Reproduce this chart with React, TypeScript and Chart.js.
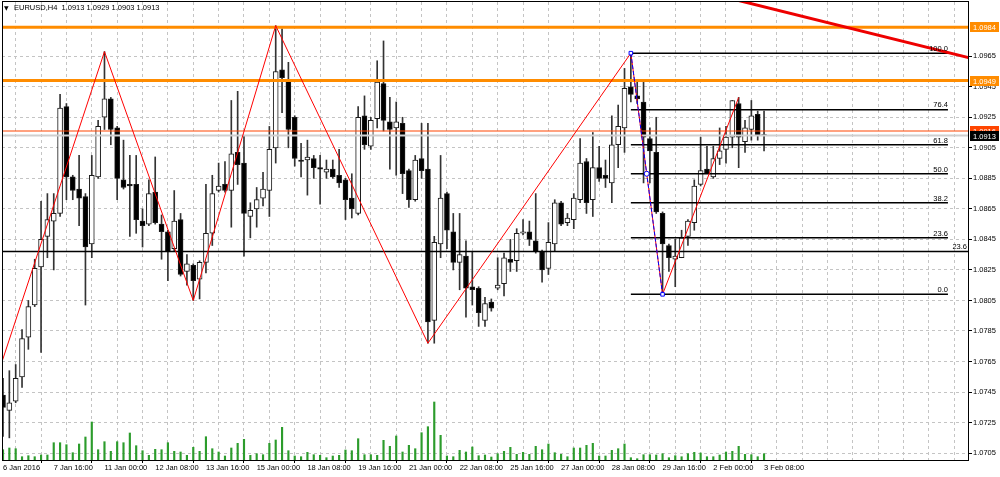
import React, { useEffect, useRef } from 'react';
import { Chart, registerables } from 'chart.js';

Chart.register(...registerables);

// ---- data (H4 bars, index 0 = 6 Jan 2016 08:00) ----
const opens = [
  1.0743, 1.0733, 1.0739, 1.0755, 1.0781, 1.0802, 1.0827, 1.0847, 1.0857, 1.0862,
  1.0932, 1.0886, 1.0878, 1.0873, 1.0842, 1.0886, 1.0925, 1.0937, 1.0918, 1.0884,
  1.0881, 1.0881, 1.0857, 1.0855, 1.0876, 1.0855, 1.0850, 1.0839, 1.0858, 1.0824,
  1.0828, 1.0819, 1.0830, 1.0849, 1.0877, 1.0881, 1.0877, 1.0902, 1.0895, 1.0860,
  1.0865, 1.0872, 1.0877, 1.0905, 1.0956, 1.0949, 1.0925, 1.0897, 1.0897, 1.0898,
  1.0892, 1.0889, 1.0891, 1.0887, 1.0884, 1.0872, 1.0862, 1.0926, 1.0906, 1.0924,
  1.0947, 1.0922, 1.0918, 1.0921, 1.0890, 1.0871, 1.0898, 1.0891, 1.0792, 1.0842,
  1.0875, 1.0850, 1.0830, 1.0834, 1.0814, 1.0813, 1.0792, 1.0804, 1.0813, 1.0816,
  1.0832, 1.0831, 1.0849, 1.0850, 1.0844, 1.0837, 1.0826, 1.0842, 1.0869, 1.0856,
  1.0858, 1.0871, 1.0896, 1.0871, 1.0892, 1.0887, 1.0882, 1.0907, 1.0918, 1.0945,
  1.0939, 1.0935, 1.0911, 1.0902, 1.0862, 1.0841, 1.0832, 1.0833, 1.0847, 1.0856,
  1.0881, 1.0891, 1.0886, 1.0898, 1.0904, 1.0912, 1.0934, 1.0909, 1.0917, 1.0927,
  1.0913,
];
const highs = [
  1.0754, 1.0759, 1.0763, 1.0786, 1.0805, 1.0832, 1.0870, 1.0875, 1.0875, 1.0940,
  1.0934, 1.0887, 1.0900, 1.0875, 1.0900, 1.0923, 1.0968, 1.0938, 1.0919, 1.0910,
  1.0900, 1.0900, 1.0865, 1.0884, 1.0899, 1.0861, 1.0851, 1.0877, 1.0862, 1.0835,
  1.0829, 1.0831, 1.0881, 1.0887, 1.0895, 1.0896, 1.0936, 1.0942, 1.0913, 1.0869,
  1.0879, 1.0889, 1.0919, 1.0985, 1.0983, 1.0961, 1.0926, 1.0908, 1.0910, 1.0900,
  1.0900, 1.0897, 1.0897, 1.0904, 1.0885, 1.0888, 1.0932, 1.0939, 1.0925, 1.0962,
  1.0975, 1.0938, 1.0935, 1.0925, 1.0891, 1.0900, 1.0921, 1.0921, 1.0847, 1.0900,
  1.0876, 1.0862, 1.0862, 1.0844, 1.0837, 1.0814, 1.0807, 1.0806, 1.0833, 1.0836,
  1.0845, 1.0852, 1.0858, 1.0857, 1.0875, 1.0838, 1.0856, 1.0871, 1.0870, 1.0862,
  1.0875, 1.0911, 1.0898, 1.0915, 1.0906, 1.0897, 1.0926, 1.0933, 1.0957, 1.0967,
  1.0948, 1.0948, 1.0918, 1.0925, 1.0863, 1.0842, 1.0845, 1.0851, 1.0858, 1.0884,
  1.0912, 1.0906, 1.0906, 1.0918, 1.0919, 1.0936, 1.0938, 1.0923, 1.0936, 1.0929,
  1.0929,
];
const lows = [
  1.0716, 1.0715, 1.0738, 1.0748, 1.0773, 1.0801, 1.0771, 1.0833, 1.0825, 1.0860,
  1.0871, 1.0871, 1.0854, 1.0802, 1.0833, 1.0885, 1.0917, 1.0907, 1.0871, 1.0878,
  1.0847, 1.0849, 1.0840, 1.0854, 1.0855, 1.0832, 1.0818, 1.0837, 1.0821, 1.0815,
  1.0805, 1.0806, 1.0823, 1.0841, 1.0876, 1.0876, 1.0853, 1.0881, 1.0834, 1.0846,
  1.0853, 1.0867, 1.0860, 1.0895, 1.0928, 1.0905, 1.0893, 1.0886, 1.0874, 1.0885,
  1.0868, 1.0885, 1.0885, 1.0879, 1.0858, 1.0859, 1.0861, 1.0904, 1.0904, 1.0918,
  1.0916, 1.0891, 1.0887, 1.0875, 1.0866, 1.0870, 1.0885, 1.0777, 1.0777, 1.0833,
  1.0839, 1.0825, 1.0812, 1.0794, 1.0802, 1.0788, 1.0788, 1.0798, 1.0812, 1.0808,
  1.0824, 1.0824, 1.0848, 1.0841, 1.0836, 1.0817, 1.0822, 1.0837, 1.0854, 1.0854,
  1.0852, 1.0869, 1.0862, 1.0860, 1.0883, 1.0879, 1.0869, 1.0892, 1.0902, 1.0935,
  1.0934, 1.0882, 1.0882, 1.0862, 1.0809, 1.0824, 1.0814, 1.0833, 1.0841, 1.0851,
  1.0880, 1.0888, 1.0885, 1.0894, 1.0895, 1.0905, 1.0892, 1.0902, 1.0910, 1.0910,
  1.0903,
];
const closes = [
  1.0735, 1.0738, 1.0754, 1.0780, 1.0801, 1.0826, 1.0845, 1.0858, 1.0862, 1.0931,
  1.0886, 1.0877, 1.0872, 1.0840, 1.0887, 1.0919, 1.0937, 1.0917, 1.0885, 1.0879,
  1.0880, 1.0858, 1.0854, 1.0875, 1.0856, 1.0850, 1.0837, 1.0857, 1.0822, 1.0829,
  1.0818, 1.0830, 1.0849, 1.0875, 1.0880, 1.0877, 1.0901, 1.0894, 1.0862, 1.0864,
  1.0871, 1.0878, 1.0904, 1.0955, 1.0951, 1.0917, 1.0898, 1.0896, 1.0899, 1.0892,
  1.0891, 1.0891, 1.0886, 1.0882, 1.0871, 1.0865, 1.0925, 1.0907, 1.0923, 1.0948,
  1.0923, 1.0917, 1.0922, 1.0888, 1.0871, 1.0897, 1.0890, 1.0791, 1.0843, 1.0872,
  1.0851, 1.0830, 1.0835, 1.0813, 1.0812, 1.0797, 1.0803, 1.0800, 1.0815, 1.0833,
  1.0830, 1.0849, 1.0850, 1.0845, 1.0837, 1.0825, 1.0843, 1.0869, 1.0855, 1.0859,
  1.0872, 1.0895, 1.0869, 1.0892, 1.0885, 1.0885, 1.0907, 1.0919, 1.0944, 1.0940,
  1.0937, 1.0912, 1.0903, 1.0863, 1.0842, 1.0833, 1.0834, 1.0846, 1.0857, 1.0880,
  1.0890, 1.0888, 1.0898, 1.0903, 1.0912, 1.0936, 1.0912, 1.0918, 1.0926, 1.0913,
  1.0913,
];
const volumes = [
  1030, 1200, 1130, 330, 430, 330, 500, 500, 1730, 1730,
  1530, 730, 1600, 2300, 3800, 1030, 1830, 870, 1830, 1730,
  2700, 1430, 930, 470, 1070, 1030, 1730, 870, 800, 470,
  1270, 870, 2330, 1130, 800, 400, 1200, 1670, 2070, 470,
  630, 530, 1670, 2000, 3270, 930, 400, 330, 770, 530,
  470, 230, 400, 470, 1000, 930, 2130, 530, 530, 470,
  1970, 1370, 2400, 800, 1470, 1130, 2730, 3330, 5800, 2470,
  400, 330, 970, 800, 1300, 430, 500, 300, 630, 870,
  1270, 570, 770, 570, 1370, 1030, 1600, 730, 570, 330,
  1200, 1200, 1470, 1670, 400, 400, 970, 1130, 1600, 230,
  130, 530, 530, 500, 630, 230, 430, 330, 630, 770,
  700, 330, 330, 500, 800, 870, 1370, 570, 530, 330,
  630,
];
const timeLabels = [
  '6 Jan 2016', '7 Jan 16:00', '11 Jan 00:00', '12 Jan 08:00', '13 Jan 16:00',
  '15 Jan 00:00', '18 Jan 08:00', '19 Jan 16:00', '21 Jan 00:00', '22 Jan 08:00',
  '25 Jan 16:00', '27 Jan 00:00', '28 Jan 08:00', '29 Jan 16:00', '2 Feb 00:00',
  '3 Feb 08:00',
];
const priceTicks = [
  1.0705, 1.0725, 1.0745, 1.0765, 1.0785, 1.0805, 1.0825,
  1.0845, 1.0865, 1.0885, 1.0905, 1.0925, 1.0945, 1.0965,
];
const zigzagIdx = [-0.47, 16, 30, 43, 67, 99, 104, 116];
const zigzagPrice = [1.0761, 1.0968, 1.0805, 1.0985, 1.0777, 1.0967, 1.0809, 1.0938];
const trendIdx = [100, 160];
const trendPrice = [1.1018, 1.0956];
const fibRatios = ['100.0', '76.4', '61.8', '50.0', '38.2', '23.6', '0.0'];
const fibPrices = [1.0967, 1.0930, 1.0907, 1.0888, 1.0869, 1.0846, 1.0809];
const fibStartIdx = 99;
const fibEndIdx = 149;
const fibTrendIdx = [99, 101.5, 104];
const fibTrendPrice = [1.0967, 1.0888, 1.0809];
const resistanceLevels = [1.0984, 1.0949];
const supportLevel = 1.0837;
const supportLabel = '23.6';
const alertPrice = 1.0916;
const bidPrice = 1.0913;
const symbolTitle = 'EURUSD,H4  1.0913 1.0929 1.0903 1.0913';

const FONT = "7.5px 'Liberation Sans', Arial, sans-serif";
const X_MIN = -0.158;
const X_MAX = 152.16;

function hLine(price: number, color: string, width: number, order: number, from = -5, to = 160) {
  return {
    type: 'line',
    data: [{ x: from, y: price }, { x: to, y: price }],
    borderColor: color,
    borderWidth: width,
    pointRadius: 0,
    fill: false,
    yAxisID: 'y',
    order,
  };
}

const overlayPlugin = {
  id: 'mt4Overlay',
  afterDraw(chart: any) {
    const { ctx, chartArea: a, scales } = chart;
    const xs = scales.x;
    const ys = scales.y;
    ctx.save();
    // frame
    ctx.strokeStyle = '#000';
    ctx.lineWidth = 1;
    ctx.setLineDash([]);
    ctx.strokeRect(a.left + 0.5, a.top - 0.5, a.right - a.left, a.bottom - a.top + 1);

    // title
    ctx.fillStyle = '#000';
    ctx.textBaseline = 'middle';
    ctx.textAlign = 'left';
    ctx.font = "6px 'DejaVu Sans', sans-serif";
    ctx.fillText('▼', 4, 8);
    ctx.font = FONT;
    ctx.fillText(symbolTitle, 14, 8);

    // fibonacci labels
    ctx.textAlign = 'right';
    ctx.textBaseline = 'bottom';
    const fx = xs.getPixelForValue(fibEndIdx);
    fibPrices.forEach((p, k) => {
      ctx.fillText(fibRatios[k], fx, ys.getPixelForValue(p) - 0.5);
    });
    ctx.fillText(supportLabel, a.right - 1, ys.getPixelForValue(supportLevel) - 0.5);

    // price boxes on the axis
    const box = (price: number, bg: string) => {
      const y = ys.getPixelForValue(price);
      ctx.fillStyle = bg;
      ctx.fillRect(a.right + 2, Math.round(y) - 5, 29, 10);
      ctx.fillStyle = '#fff';
      ctx.textAlign = 'left';
      ctx.textBaseline = 'middle';
      ctx.fillText(price.toFixed(4), a.right + 5, Math.round(y) + 0.5);
    };
    box(resistanceLevels[0], '#ff8c00');
    box(resistanceLevels[1], '#ff8c00');
    box(alertPrice, '#ff4500');
    box(bidPrice, '#000');
    ctx.restore();
  },
};

export default function App() {
  const ref = useRef<HTMLCanvasElement>(null);
  useEffect(() => {
    document.body.style.margin = '0';
    const canvas = ref.current;
    if (!canvas) return;

    const idx = opens.map((_, i) => i);
    const bodyColors = idx.map((i) => (closes[i] > opens[i] ? '#ffffff' : '#000000'));
    const xTicks: number[] = [];
    for (let v = 0; v <= 152; v += 4) xTicks.push(v);

    const datasets: any[] = [
      {
        type: 'bar',
        data: idx.map((i) => ({ x: i, y: volumes[i] })),
        backgroundColor: '#2c9c2c',
        barThickness: 1.5,
        grouped: false,
        yAxisID: 'v',
        order: 20,
      },
      {
        type: 'bar',
        data: idx.map((i) => ({ x: i, y: [lows[i], highs[i]] })),
        backgroundColor: '#333333',
        barThickness: 1,
        grouped: false,
        yAxisID: 'y',
        order: 19,
      },
      {
        type: 'bar',
        data: idx.map((i) => ({ x: i, y: [opens[i], closes[i]] })),
        backgroundColor: bodyColors,
        borderColor: '#1a1a1a',
        borderWidth: 1,
        borderSkipped: false,
        minBarLength: 1,
        barThickness: 5,
        grouped: false,
        yAxisID: 'y',
        order: 18,
      },
      hLine(bidPrice, '#cfcfcf', 2, 12),
      hLine(alertPrice, '#ff4500', 1, 11),
      hLine(supportLevel, '#000', 1.5, 6),
      ...resistanceLevels.map((p) => hLine(p, '#ff8c00', 3, 5)),
      ...fibPrices.map((p) => hLine(p, '#000', 1.5, 7, fibStartIdx, fibEndIdx)),
      {
        type: 'line',
        data: zigzagIdx.map((x, k) => ({ x, y: zigzagPrice[k] })),
        borderColor: '#ff0000',
        borderWidth: 1,
        pointRadius: 0,
        fill: false,
        yAxisID: 'y',
        order: 3,
      },
      {
        type: 'line',
        data: trendIdx.map((x, k) => ({ x, y: trendPrice[k] })),
        borderColor: '#ee0000',
        borderWidth: 3,
        pointRadius: 0,
        fill: false,
        yAxisID: 'y',
        order: 2,
      },
      {
        type: 'line',
        data: fibTrendIdx.map((x, k) => ({ x, y: fibTrendPrice[k] })),
        borderColor: '#0000ff',
        borderWidth: 1,
        borderDash: [4, 2],
        pointStyle: ['rect', 'circle', 'rect'],
        pointRadius: 2.5,
        pointBackgroundColor: '#ffffff',
        pointBorderColor: '#0000ff',
        pointBorderWidth: 1,
        fill: false,
        yAxisID: 'y',
        order: 1,
      },
    ];

    const chart = new Chart(canvas, {
      type: 'bar',
      data: { datasets },
      options: {
        responsive: false,
        animation: false,
        devicePixelRatio: 1,
        events: [],
        layout: { autoPadding: false, padding: { left: 2, top: 2, right: 0, bottom: 0 } },
        plugins: { legend: { display: false }, tooltip: { enabled: false } },
        scales: {
          x: {
            type: 'linear',
            min: X_MIN,
            max: X_MAX,
            offset: false,
            afterBuildTicks: (s: any) => {
              s.ticks = xTicks.map((value) => ({ value }));
            },
            afterFit: (s: any) => {
              s.height = 17;
              s.paddingLeft = 0;
              s.paddingRight = 0;
            },
            ticks: {
              autoSkip: false,
              maxRotation: 0,
              minRotation: 0,
              align: 'start',
              padding: 0,
              color: '#000',
              font: { family: "'Liberation Sans', Arial, sans-serif", size: 7.5 },
              callback: (value: any) => {
                const v = Number(value);
                return v % 8 === 0 && v / 8 < timeLabels.length ? timeLabels[v / 8] : '';
              },
            },
            grid: {
              color: '#c4c4c4',
              lineWidth: 1,
              drawTicks: true,
              tickLength: 3,
              tickBorderDash: [],
              tickColor: (c: any) =>
                c.tick && Number(c.tick.value) % 8 === 0 && Number(c.tick.value) <= 120
                  ? '#000'
                  : 'rgba(0,0,0,0)',
            },
            border: { display: false, dash: [3, 3] },
          },
          y: {
            type: 'linear',
            position: 'right',
            min: 1.07005,
            max: 1.10005,
            afterBuildTicks: (s: any) => {
              s.ticks = priceTicks.map((value) => ({ value }));
            },
            afterFit: (s: any) => {
              s.width = 32;
              s.paddingTop = 0;
              s.paddingBottom = 0;
            },
            ticks: {
              padding: 1,
              color: '#000',
              font: { family: "'Liberation Sans', Arial, sans-serif", size: 7.5 },
              callback: (value: any) => Number(value).toFixed(4),
            },
            grid: {
              color: '#c4c4c4',
              lineWidth: 1,
              tickLength: 4,
              tickColor: '#000',
              tickBorderDash: [],
            },
            border: { display: false, dash: [3, 3] },
          },
          v: {
            type: 'linear',
            display: false,
            min: 0,
            max: 45800,
          },
        },
      } as any,
      plugins: [overlayPlugin],
    } as any);
    return () => chart.destroy();
  }, []);

  return (
    <div style={{ position: 'absolute', left: 0, top: 0, width: 1000, height: 477, background: '#fff' }}>
      <canvas ref={ref} width={1000} height={477} style={{ display: 'block', width: 1000, height: 477 }} />
    </div>
  );
}
